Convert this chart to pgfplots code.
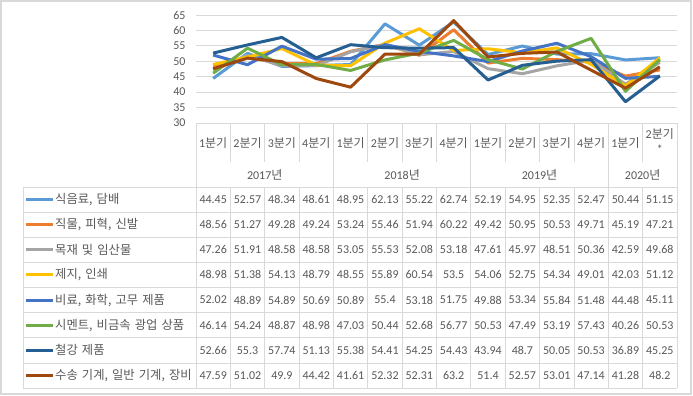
\documentclass[border=0pt]{standalone}
\usepackage{fontspec}
\setmainfont{Carlito}
\newfontfamily\kr{Noto Sans CJK KR}
\newfontfamily\krl[WordSpace=1.5]{Noto Sans CJK KR}
\usepackage{pgfplots}
\usepackage{pgfplotstable}
\pgfplotsset{compat=1.18}
\definecolor{c1}{HTML}{5B9BD5}
\definecolor{c2}{HTML}{ED7D31}
\definecolor{c3}{HTML}{A5A5A5}
\definecolor{c4}{HTML}{FFC000}
\definecolor{c5}{HTML}{4472C4}
\definecolor{c6}{HTML}{70AD47}
\definecolor{c7}{HTML}{255E91}
\definecolor{c8}{HTML}{9E480E}
\definecolor{txt}{HTML}{595959}
\definecolor{gridc}{HTML}{D9D9D9}

\pgfplotstableread{
x a b c d e f g h
0 44.45 48.56 47.26 48.98 52.02 46.14 52.66 47.59
1 52.57 51.27 51.91 51.38 48.89 54.24 55.3 51.02
2 48.34 49.28 48.58 54.13 54.89 48.87 57.74 49.9
3 48.61 49.24 48.58 48.79 50.69 48.98 51.13 44.42
4 48.95 53.24 53.05 48.55 50.89 47.03 55.38 41.61
5 62.13 55.46 55.53 55.89 55.4 50.44 54.41 52.32
6 55.22 51.94 52.08 60.54 53.18 52.68 54.25 52.31
7 62.74 60.22 53.18 53.5 51.75 56.77 54.43 63.2
8 52.19 49.42 47.61 54.06 49.88 50.53 43.94 51.4
9 54.95 50.95 45.97 52.75 53.34 47.49 48.7 52.57
10 52.35 50.53 48.51 54.34 55.84 53.19 50.05 53.01
11 52.47 49.71 50.36 49.01 51.48 57.43 50.53 47.14
12 50.44 45.19 42.59 42.03 44.48 40.26 36.89 41.28
13 51.15 47.21 49.68 51.12 45.11 50.53 45.25 48.2
}\datatable

\begin{document}
\begin{tikzpicture}
\useasboundingbox (0,0) rectangle (693bp,-396bp);
\fill[white] (0,0) rectangle (693bp,-396bp);
\draw[gridc, line width=1.5bp] (1bp,-1bp) rectangle (691bp,-394bp);
\begin{axis}[at={(196bp,-123bp)}, anchor=south west, scale only axis,
  width=481bp, height=108bp, xmin=-0.5, xmax=13.5, ymin=30, ymax=65,
  ytick={30,35,...,65}, xtick=\empty, ymajorgrids,
  grid style={gridc, line width=0.75bp},
  axis line style={draw=none}, major tick length=0pt,
  /pgf/number format/assume math mode=true,
  yticklabel style={font=\fontsize{12bp}{14bp}\selectfont, text=txt, xshift=-7bp},
  every axis plot/.append style={line width=3bp, line join=round, mark=none}]
\addplot[c1] table[x=x,y=a]{\datatable};
\addplot[c2] table[x=x,y=b]{\datatable};
\addplot[c3] table[x=x,y=c]{\datatable};
\addplot[c4] table[x=x,y=d]{\datatable};
\addplot[c5] table[x=x,y=e]{\datatable};
\addplot[c6] table[x=x,y=f]{\datatable};
\addplot[c7] table[x=x,y=g]{\datatable};
\addplot[c8] table[x=x,y=h]{\datatable};
\end{axis}
\begin{scope}[x=1bp,y=-1bp, font=\fontsize{12bp}{14bp}\selectfont, text=txt]
\def\w{34.357}
\def\rh{25.125}
\foreach \r in {0,...,8} \draw[gridc, line width=0.75bp] (23,{187+\r*\rh}) -- (677,{187+\r*\rh});
\draw[gridc, line width=0.75bp] (23,187) -- (23,388);
\foreach \k in {0,...,14} \draw[gridc, line width=0.75bp] ({196+\k*\w},187) -- ({196+\k*\w},388);
\foreach \k in {0,4,8,12,14} \draw[gridc, line width=0.75bp] ({196+\k*\w},123) -- ({196+\k*\w},187);
\foreach \k in {1,2,3,5,6,7,9,10,11,13} \draw[gridc, line width=0.75bp] ({196+\k*\w},123) -- ({196+\k*\w},162);
\foreach \k/\q in {0/1,1/2,2/3,3/4,4/1,5/2,6/3,7/4,8/1,9/2,10/3,11/4,12/1}
  \node at ({196+(\k+0.5)*\w},143) {\q{\kr 분기}};
\node at ({196+13.5*\w},134) {2{\kr 분기}};
\node at ({196+13.5*\w},149.5) {*};
\node at ({196+2*\w},175) {2017{\kr 년}};
\node at ({196+6*\w},175) {2018{\kr 년}};
\node at ({196+10*\w},175) {2019{\kr 년}};
\node at ({196+13*\w},175) {2020{\kr 년}};
\foreach \i/\c in {0/c1,1/c2,2/c3,3/c4,4/c5,5/c6,6/c7,7/c8}
  \draw[\c, line width=3bp] (26,{187+(\i+0.5)*\rh}) -- (53,{187+(\i+0.5)*\rh});
\begin{scope}[every node/.style={anchor=west, inner sep=0pt, font=\fontsize{12.3bp}{14bp}\krl}]
\node at (55,{187+0.5*\rh}) {식음료, 담배};
\node at (55,{187+1.5*\rh}) {직물, 피혁, 신발};
\node at (55,{187+2.5*\rh}) {목재 및 임산물};
\node at (55,{187+3.5*\rh}) {제지, 인쇄};
\node at (55,{187+4.5*\rh}) {비료, 화학, 고무 제품};
\node at (55,{187+5.5*\rh}) {시멘트, 비금속 광업 상품};
\node at (55,{187+6.5*\rh}) {철강 제품};
\node at (55,{187+7.5*\rh}) {수송 기계, 일반 기계, 장비};
\end{scope}
\foreach \r in {0,...,13} {
  \foreach \c [count=\ci from 0] in {a,b,c,d,e,f,g,h} {
    \pgfplotstablegetelem{\r}{\c}\of\datatable
    \node at ({196+(\r+0.5)*\w},{187+(\ci+0.5)*\rh}) {\pgfplotsretval};
  }
}
\end{scope}
\end{tikzpicture}
\end{document}
